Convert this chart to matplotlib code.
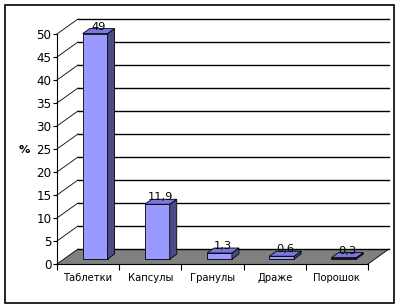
import matplotlib
matplotlib.use("Agg")
import matplotlib.pyplot as plt
from matplotlib.patches import Polygon, Rectangle

# data
categories = ["Таблетки", "Капсулы", "Гранулы", "Драже", "Порошок"]
values = [49, 11.9, 1.3, 0.6, 0.3]
value_labels = ["49", "11,9", "1,3", "0,6", "0,3"]
yticks = [0, 5, 10, 15, 20, 25, 30, 35, 40, 45, 50]

# colours
FRONT = "#9999FF"
TOP = "#7777DD"
SIDE = "#4B4B86"
FLOOR = "#808080"

# 3d look (depth offset in data units)
DX = 0.3376
DY = 3.26
W = 0.40

fig = plt.figure(figsize=(4.04, 3.08), dpi=100)
ax = fig.add_axes([0, 0, 1, 1])
ax.set_xlim(-57 / 62.2, (404 - 57) / 62.2)
ax.set_ylim((264 - 308) / 4.6, 264 / 4.6)
ax.patch.set_alpha(0)

n = len(categories)

# floor
ax.add_patch(Polygon([(0, 0), (n, 0), (n + DX, DY), (DX, DY)],
                     closed=True, facecolor=FLOOR, edgecolor="none", zorder=1))

# back wall gridlines + side wall diagonals
for v in yticks:
    ax.plot([0, DX], [v, v + DY], color="black", lw=0.6, zorder=2)
    ax.plot([DX, n + DX], [v + DY, v + DY], color="black", lw=1.0, zorder=2)
ax.plot([n, n + DX], [0, DY], color="black", lw=0.6, zorder=2)

# bars
xs = [i + 0.5 + DX / 3 for i in range(n)]
ax.bar(xs, values, width=W, bottom=DY / 3, color=FRONT,
       edgecolor="black", linewidth=0.6, zorder=3)
for x, v, lab in zip(xs, values, value_labels):
    x0 = x - W / 2
    x1 = x + W / 2
    b = DY / 3
    t = v + DY / 3
    side = [(x1, b), (x1 + DX / 3, b + DY / 3), (x1 + DX / 3, t + DY / 3), (x1, t)]
    top = [(x0, t), (x1, t), (x1 + DX / 3, t + DY / 3), (x0 + DX / 3, t + DY / 3)]
    ax.add_patch(Polygon(side, closed=True, facecolor=SIDE, edgecolor="black",
                         lw=0.6, zorder=3))
    ax.add_patch(Polygon(top, closed=True, facecolor=TOP, edgecolor="black",
                         lw=0.6, zorder=3))
    ax.text(x + DX / 6, t + DY / 3 + 0.4, lab, ha="center", va="center",
            fontsize=8.2, color="black", zorder=4)

# axes
for s in ["top", "right"]:
    ax.spines[s].set_visible(False)
ax.spines["left"].set_position(("data", 0))
ax.spines["left"].set_bounds(0, 50)
ax.spines["bottom"].set_position(("data", 0))
ax.spines["bottom"].set_bounds(0, n)
for s in ["left", "bottom"]:
    ax.spines[s].set_linewidth(0.8)
    ax.spines[s].set_zorder(5)

ax.set_yticks(yticks)
ax.set_yticklabels([str(v) for v in yticks])
ax.tick_params(axis="y", direction="out", length=3, width=0.8, pad=1,
               labelsize=8.6)
ax.set_xticks(range(n + 1))
ax.set_xticklabels([])
ax.set_xticks([i + 0.5 for i in range(n)], minor=True)
ax.set_xticklabels(categories, minor=True)
ax.tick_params(axis="x", which="major", direction="out", length=4, width=0.8)
ax.tick_params(axis="x", which="minor", length=0, pad=6.5, labelsize=7.2)

ax.text(-0.52, 24.8, "%", ha="center", va="center", fontsize=8.2,
        fontweight="bold")

# chart border
fig.patches.append(Rectangle((5 / 404, 5 / 308), 389 / 404, 298 / 308,
                             transform=fig.transFigure, fill=False,
                             edgecolor="black", lw=1.2))

fig.savefig("out.png", dpi=100)
